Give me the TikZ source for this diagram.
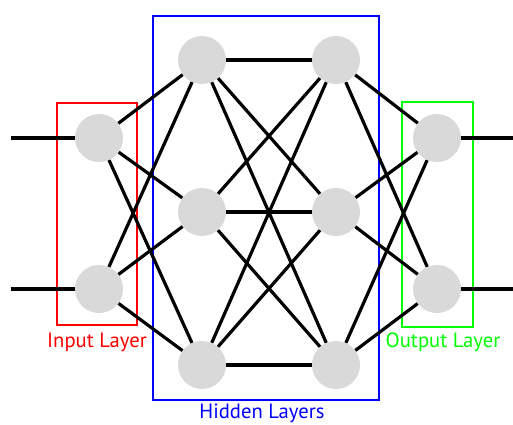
\documentclass[tikz,border=0pt]{standalone}
\usepackage{fontspec}
\setmainfont{PT Sans}
\begin{document}
\begin{tikzpicture}[x=0.75pt,y=-0.75pt,
  neuron/.style={circle,fill=nodegray,draw=none,minimum size=36pt,inner sep=0pt},
  link/.style={line width=2.4pt,black},
  layerbox/.style={line width=1.5pt},
  layerlabel/.style={font=\fontsize{15.5}{18}\selectfont,inner sep=0pt}]
\definecolor{nodegray}{HTML}{D9D9D9}
\useasboundingbox (0,0) rectangle (513,424);
% layer frames
\draw[layerbox,red] (57,103) rectangle (137,325);
\draw[layerbox,blue] (153,16) rectangle (379,400);
\draw[layerbox,green] (402,102) rectangle (473,327);
% neurons
\node[neuron] (i1) at (99,138) {};
\node[neuron] (i2) at (99,289) {};
\node[neuron] (a1) at (202,60) {};
\node[neuron] (a2) at (202,212) {};
\node[neuron] (a3) at (202,365) {};
\node[neuron] (b1) at (336,60) {};
\node[neuron] (b2) at (336,212) {};
\node[neuron] (b3) at (336,365) {};
\node[neuron] (o1) at (437,138) {};
\node[neuron] (o2) at (437,289) {};
\coordinate (in1) at (11,138);
\coordinate (in2) at (11,289);
\coordinate (out1) at (513,138);
\coordinate (out2) at (513,289);
% connections between consecutive layers
\foreach \s in {i1,i2}{\foreach \t in {a1,a2,a3}{\draw[link] (\s) -- (\t);}}
\foreach \s in {a1,a2,a3}{\foreach \t in {b1,b2,b3}{\draw[link] (\s) -- (\t);}}
\foreach \s in {b1,b2,b3}{\foreach \t in {o1,o2}{\draw[link] (\s) -- (\t);}}
\draw[link] (in1) -- (i1);
\draw[link] (in2) -- (i2);
\draw[link] (o1) -- (out1);
\draw[link] (o2) -- (out2);
% labels
\node[layerlabel,red] (li) at (97,342) {Input Layer};
\node[layerlabel,blue] (lh) at (262,413) {Hidden Layers};
\node[layerlabel,green] (lo) at (443,342) {Output Layer};
\end{tikzpicture}
\end{document}
